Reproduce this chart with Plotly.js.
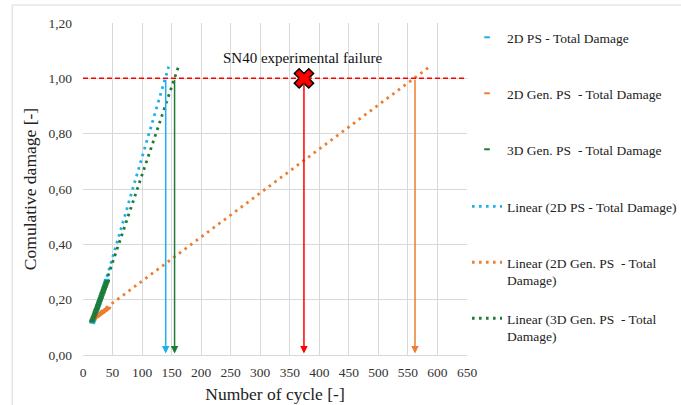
<!DOCTYPE html>
<html>
<head>
<meta charset="utf-8">
<script src="https://cdn.plot.ly/plotly-3.0.1.min.js"></script>
<style>html,body{margin:0;padding:0;background:#fff;}#chart{width:681px;height:405px;}</style>
</head>
<body>
<div id="chart"></div>
<script>
// ---- data ----
const ps2dX = [16,17,18,19,20,21,22,23,24,25,26,27,28,29,30,31,32,33,34,35,36,37,38,39,40];
const ps2dY = [0.117,0.121,0.127,0.134,0.140,0.147,0.153,0.160,0.167,0.173,0.180,0.186,0.193,0.199,0.206,0.212,0.219,0.226,0.232,0.239,0.245,0.252,0.258,0.265,0.272];
const gen2dX = [16,17,18,19,20,21,22,23,24,25,26,27,28,29,30,31,32,33,34,35,36,37,38,39,40,41,42,43];
const gen2dY = [0.127,0.129,0.131,0.132,0.134,0.136,0.137,0.139,0.140,0.142,0.143,0.145,0.147,0.148,0.150,0.151,0.153,0.154,0.156,0.158,0.159,0.161,0.162,0.164,0.166,0.167,0.169,0.171];
const gen3dX = [15,16,17,18,19,20,21,22,23,24,25,26,27,28,29,30,31,32,33,34,35,36,37,38,39,40,41];
const gen3dY = [0.121,0.126,0.132,0.138,0.143,0.149,0.155,0.161,0.166,0.172,0.178,0.183,0.189,0.195,0.201,0.206,0.212,0.218,0.224,0.229,0.235,0.241,0.246,0.252,0.258,0.263,0.268];
// trendline end points (Excel forecast)
const trendPs2dX = [17, 145];
const trendPs2dY = [0.112, 1.042];
const trendGen2dX = [20, 590];
const trendGen2dY = [0.140, 1.047];
const trendGen3dX = [16, 162];
const trendGen3dY = [0.118, 1.045];
// failure markers
const failureCycles = [140, 155, 374, 562];
const failureColors = ['#1CB0EC', '#1E7B35', '#FF0000', '#ED7D31'];
const experimentX = [374];
const experimentY = [1.0];
const damageLimit = 1.0;
const xTicks = [0,50,100,150,200,250,300,350,400,450,500,550,600,650];
const yTicks = [0,0.2,0.4,0.6,0.8,1.0,1.2];

const BLUE = '#1CB0EC', ORANGE = '#ED7D31', GREEN = '#1E7B35', RED = '#FF0000';
const FONT = '"Liberation Serif", serif';

const DOT = '2.6px,4.4px';
const traces = [
  {x: trendGen2dX, y: trendGen2dY, mode: 'lines', name: 'Linear (2D Gen. PS  - Total<br>Damage)',
   line: {color: ORANGE, width: 2.8, dash: DOT}, legend: 'legend5'},
  {x: trendPs2dX, y: trendPs2dY, mode: 'lines', name: 'Linear (2D PS - Total Damage)',
   line: {color: BLUE, width: 2.8, dash: DOT}, legend: 'legend4'},
  {x: trendGen3dX, y: trendGen3dY, mode: 'lines', name: 'Linear (3D Gen. PS  - Total<br>Damage)',
   line: {color: GREEN, width: 2.8, dash: DOT}, legend: 'legend6'},
  {x: ps2dX, y: ps2dY, mode: 'markers', name: '2D PS - Total Damage',
   marker: {symbol: 'line-ew', size: 4, line: {color: BLUE, width: 2}, color: BLUE}, legend: 'legend'},
  {x: gen2dX, y: gen2dY, mode: 'markers', name: '2D Gen. PS  - Total Damage',
   marker: {symbol: 'line-ew', size: 4, line: {color: ORANGE, width: 2}, color: ORANGE}, legend: 'legend2'},
  {x: gen3dX, y: gen3dY, mode: 'markers', name: '3D Gen. PS  - Total Damage',
   marker: {symbol: 'line-ew', size: 4, line: {color: GREEN, width: 2}, color: GREEN}, legend: 'legend3'},
  {x: experimentX, y: experimentY, mode: 'markers', showlegend: false,
   marker: {symbol: 'x', size: 17, color: RED, line: {color: '#000', width: 1.5}}}
];

const annotations = failureCycles.map((c, i) => ({
  x: c, y: 0.005, ax: c, ay: damageLimit, xref: 'x', yref: 'y', axref: 'x', ayref: 'y',
  text: '', showarrow: true, arrowhead: 2, arrowsize: 1, arrowwidth: 1.5,
  arrowcolor: failureColors[i], standoff: 0, startstandoff: 0
}));
annotations.push({x: experimentX[0] - 3, y: 1.073, xref: 'x', yref: 'y', text: 'SN40 experimental failure',
  showarrow: false, font: {family: FONT, size: 15, color: '#111'}});

function leg(ytop) {
  return {x: 467/681, y: 1 - ytop/405, xref: 'container', yref: 'container', xanchor: 'left', yanchor: 'top',
    valign: 'top', bgcolor: 'rgba(0,0,0,0)', borderwidth: 0, itemwidth: 30,
    font: {family: FONT, size: 13.5, color: '#222'}};
}

const layout = {
  width: 681, height: 405,
  margin: {l: 83, r: 213, t: 23, b: 50},
  paper_bgcolor: '#fff', plot_bgcolor: '#fff',
  separators: ',.',
  font: {family: FONT, color: '#333'},
  xaxis: {range: [0, 650], tickvals: xTicks, showgrid: true, gridcolor: '#d9d9d9', gridwidth: 1,
    zeroline: false, showline: true, linecolor: '#d9d9d9', ticks: '', ticklabelstandoff: 5,
    tickfont: {family: FONT, size: 13.5, color: '#333'},
    title: {text: 'Number of cycle [-]', font: {family: FONT, size: 17.5, color: '#222'}, standoff: 8}},
  yaxis: {range: [0, 1.2], tickvals: yTicks, tickformat: '.2f', showgrid: true, gridcolor: '#d9d9d9', gridwidth: 1,
    zeroline: false, showline: false, ticks: '', ticklabelstandoff: 10,
    tickfont: {family: FONT, size: 13.5, color: '#333'},
    title: {text: 'Comulative damage [-]', font: {family: FONT, size: 17.5, color: '#222'}, standoff: 7}},
  shapes: [
    {type: 'line', xref: 'paper', yref: 'y', x0: 0, x1: 1, y0: damageLimit, y1: damageLimit,
     line: {color: RED, width: 1.5, dash: '5px,3px'}},
    {type: 'rect', xref: 'paper', yref: 'paper', x0: (12-83)/385, x1: (690-83)/385, y0: (355-410)/332, y1: (355-5)/332,
     line: {color: '#d9d9d9', width: 1}, fillcolor: 'rgba(0,0,0,0)', layer: 'below'}
  ],
  annotations: annotations,
  legend: leg(22), legend2: leg(78), legend3: leg(134), legend4: leg(191), legend5: leg(247), legend6: leg(303),
  showlegend: true
};

Plotly.newPlot('chart', traces, layout, {displayModeBar: false, staticPlot: true});
</script>
</body>
</html>
